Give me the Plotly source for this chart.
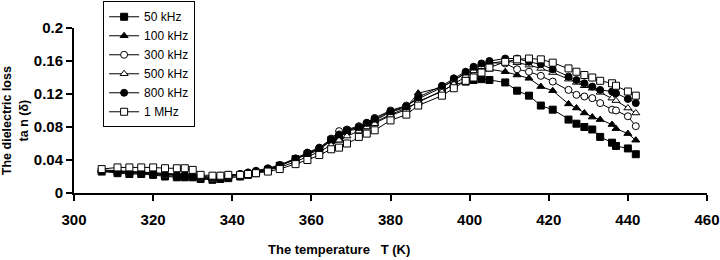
import plotly.graph_objects as go

# Temperature grid (K)
T = [307, 311, 314, 317, 320, 323, 326, 328, 330, 332, 335, 337, 339, 342, 344, 346, 349, 352, 356, 359,
     362, 365, 367, 369, 372, 374, 376, 380, 384, 387, 393, 396, 399, 401, 403, 405, 409, 412, 415, 418,
     421, 425, 427, 429, 431, 433, 436, 437, 440, 442]

tan_50k = [0.026, 0.024, 0.023, 0.023, 0.022, 0.020, 0.019, 0.019, 0.019, 0.017, 0.016, 0.017, 0.018, 0.020,
           0.022, 0.024, 0.028, 0.033, 0.041, 0.047, 0.052, 0.064, 0.066, 0.075, 0.078, 0.082, 0.086, 0.095,
           0.103, 0.110, 0.124, 0.131, 0.135, 0.137, 0.138, 0.137, 0.134, 0.124, 0.118, 0.106, 0.101, 0.089,
           0.084, 0.080, 0.077, 0.068, 0.061, 0.057, 0.054, 0.047]
tan_100k = [0.027, 0.025, 0.024, 0.024, 0.023, 0.021, 0.020, 0.020, 0.020, 0.018, 0.017, 0.018, 0.020, 0.021,
            0.023, 0.025, 0.029, 0.033, 0.041, 0.048, 0.054, 0.063, 0.068, 0.075, 0.080, 0.084, 0.088, 0.098,
            0.104, 0.121, 0.128, 0.137, 0.145, 0.148, 0.150, 0.150, 0.147, 0.143, 0.139, 0.129, 0.124, 0.108,
            0.103, 0.097, 0.092, 0.089, 0.083, 0.078, 0.072, 0.064]
tan_300k = [0.027, 0.026, 0.025, 0.025, 0.024, 0.022, 0.022, 0.022, 0.021, 0.019, 0.018, 0.020, 0.021, 0.023,
            0.024, 0.026, 0.029, 0.033, 0.041, 0.048, 0.054, 0.066, 0.075, 0.077, 0.081, 0.085, 0.091, 0.100,
            0.106, 0.114, 0.128, 0.137, 0.146, 0.151, 0.155, 0.158, 0.157, 0.150, 0.147, 0.142, 0.135, 0.125,
            0.119, 0.117, 0.115, 0.109, 0.101, 0.100, 0.093, 0.081]
tan_500k = [0.028, 0.027, 0.026, 0.026, 0.025, 0.024, 0.023, 0.023, 0.022, 0.020, 0.019, 0.020, 0.021, 0.022,
            0.023, 0.025, 0.028, 0.031, 0.038, 0.044, 0.050, 0.058, 0.064, 0.069, 0.075, 0.080, 0.084, 0.094,
            0.101, 0.111, 0.123, 0.132, 0.142, 0.148, 0.153, 0.157, 0.160, 0.158, 0.155, 0.151, 0.146, 0.138,
            0.134, 0.130, 0.127, 0.122, 0.115, 0.112, 0.103, 0.097]
tan_800k = [0.027, 0.026, 0.025, 0.025, 0.024, 0.023, 0.022, 0.022, 0.021, 0.020, 0.019, 0.021, 0.022, 0.023,
            0.025, 0.027, 0.030, 0.034, 0.042, 0.049, 0.055, 0.065, 0.071, 0.076, 0.080, 0.085, 0.090, 0.099,
            0.105, 0.116, 0.130, 0.139, 0.147, 0.153, 0.157, 0.160, 0.163, 0.163, 0.159, 0.156, 0.150, 0.141,
            0.137, 0.133, 0.129, 0.125, 0.123, 0.121, 0.114, 0.109]
tan_1M = [0.029, 0.031, 0.031, 0.031, 0.031, 0.030, 0.030, 0.030, 0.028, 0.022, 0.021, 0.021, 0.022, 0.022,
          0.023, 0.024, 0.026, 0.029, 0.035, 0.040, 0.046, 0.053, 0.055, 0.060, 0.068, 0.072, 0.076, 0.088,
          0.095, 0.106, 0.118, 0.127, 0.136, 0.140, 0.146, 0.152, 0.159, 0.162, 0.163, 0.162, 0.158, 0.151,
          0.147, 0.143, 0.140, 0.136, 0.133, 0.130, 0.123, 0.118]

series_names = ["50 kHz", "100 kHz", "300 kHz", "500 kHz", "800 kHz", "1 MHz"]
series_values = [tan_50k, tan_100k, tan_300k, tan_500k, tan_800k, tan_1M]
series_symbols = ["square", "triangle-up", "circle", "triangle-up", "circle", "square"]
series_filled = [True, True, False, False, True, False]

x_ticks = [300, 320, 340, 360, 380, 400, 420, 440, 460]
y_ticks = [0, 0.04, 0.08, 0.12, 0.16, 0.2]
y_ticklabels = ["0", "0.04", "0.08", "0.12", "0.16", "0.2"]

x_title = "The temperature   T (K)"
y_title = "The dielectric loss<br>ta n (δ)"

FONT = "Liberation Sans, Arial"

fig = go.Figure()
for name, vals, sym, filled in zip(series_names, series_values, series_symbols, series_filled):
    fig.add_trace(go.Scatter(
        x=T, y=vals, name=name, mode="lines+markers",
        line=dict(color="black", width=1),
        marker=dict(symbol=sym, size=7, color="black" if filled else "white",
                    line=dict(color="black", width=1)),
    ))

fig.update_layout(
    width=720, height=260,
    margin=dict(l=74, r=12.5, t=27.7, b=67.3, autoexpand=False),
    paper_bgcolor="white", plot_bgcolor="white",
    font=dict(family=FONT, color="black", size=13),
    showlegend=True,
    legend=dict(
        x=0.046, y=1.162, xanchor="left", yanchor="top",
        bordercolor="black", borderwidth=1, bgcolor="white",
        font=dict(family=FONT, size=12, color="black"),
        itemwidth=30, tracegroupgap=0, maxheight=300,
    ),
    xaxis=dict(
        range=[300, 460], tickvals=x_ticks, showgrid=False, zeroline=False,
        showline=True, linecolor="black", linewidth=2,
        ticks="outside", ticklen=6, tickwidth=2, tickcolor="black",
        tickfont=dict(family=FONT, size=15, weight="bold"),
        ticklabelstandoff=6,
    ),
    yaxis=dict(
        range=[0, 0.2], tickvals=y_ticks, ticktext=y_ticklabels, showgrid=False, zeroline=False,
        showline=True, linecolor="black", linewidth=2,
        ticks="outside", ticklen=6, tickwidth=2, tickcolor="black",
        tickfont=dict(family=FONT, size=15, weight="bold"),
    ),
    annotations=[
        dict(text=x_title, xref="paper", yref="paper", x=0.418, y=-0.34,
             xanchor="center", yanchor="middle", showarrow=False,
             font=dict(family=FONT, size=13, weight="bold")),
        dict(text=y_title, xref="paper", yref="paper", x=-0.092, y=0.44,
             xanchor="center", yanchor="middle", showarrow=False, textangle=-90,
             font=dict(family=FONT, size=12.5, weight="bold")),
    ],
)

fig.write_html("out.html", config={"displayModeBar": False},
               post_script="document.body.style.margin='0';")
